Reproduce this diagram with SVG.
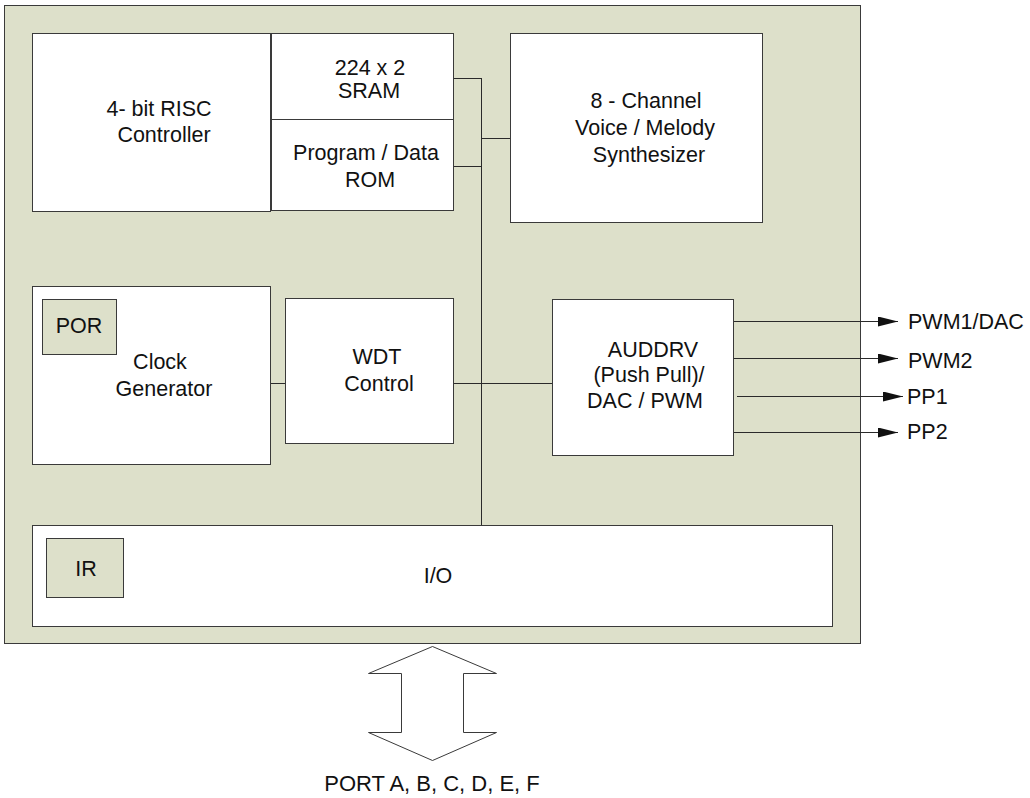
<svg xmlns="http://www.w3.org/2000/svg" width="1030" height="798" viewBox="0 0 1030 798">
  <style>
    .chip { fill: #dde0ca; stroke: #3a3a3a; stroke-width: 1; }
    .blk { fill: #ffffff; stroke: #3a3a3a; stroke-width: 1; }
    .sub { fill: #dde0ca; stroke: #3a3a3a; stroke-width: 1; }
    .wire { fill: none; stroke: #2a2a2a; stroke-width: 1; }
    .out { fill: none; stroke: #2a2a2a; stroke-width: 1; marker-end: url(#tri); }
    text { font-family: "Liberation Sans", Arial, sans-serif; font-size: 21.5px; fill: #111111; }
    .c { text-anchor: middle; }
  </style>
  <defs>
    <marker id="tri" markerUnits="userSpaceOnUse" markerWidth="20" markerHeight="10" refX="20" refY="5" orient="auto">
      <path d="M0,0 L20,5 L0,10 Z" fill="#111111"/>
    </marker>
  </defs>

  <!-- chip outline -->
  <g id="chip">
    <rect class="chip" x="4.5" y="5.5" width="856" height="638"/>
  </g>

  <!-- internal buses and external pins -->
  <g id="connectors">
    <path class="wire" d="M481.5,78 V525"/>
    <path class="wire" d="M453,78.5 H482"/>
    <path class="wire" d="M453,166.5 H482"/>
    <path class="wire" d="M481,138.5 H510"/>
    <path class="wire" d="M270,383.5 H285"/>
    <path class="wire" d="M453,383.5 H552"/>
    <path class="out" d="M733,321.5 H898"/>
    <path class="out" d="M733,358.5 H898"/>
    <path class="out" d="M737,396.5 H903"/>
    <path class="out" d="M733,432.5 H898"/>
    <polygon class="blk" points="432.5,646.5 496.5,673.5 463.5,673.5 463.5,732.5 496.5,732.5 432.5,760.5 368.5,732.5 401.5,732.5 401.5,673.5 368.5,673.5"/>
  </g>

  <g id="risc">
    <rect class="blk" x="32.5" y="33.5" width="238" height="178"/>
    <text class="c" x="159" y="116">4- bit RISC</text>
    <text class="c" x="164" y="142">Controller</text>
  </g>

  <g id="sram">
    <rect class="blk" x="271.5" y="33.5" width="182" height="86"/>
    <text class="c" x="370" y="75">224 x 2</text>
    <text class="c" x="369" y="98">SRAM</text>
  </g>

  <g id="rom">
    <rect class="blk" x="271.5" y="119.5" width="182" height="91"/>
    <text class="c" x="366" y="160">Program / Data</text>
    <text class="c" x="370" y="187">ROM</text>
  </g>

  <g id="synth">
    <rect class="blk" x="510.5" y="33.5" width="252" height="189"/>
    <text class="c" x="646" y="108">8 - Channel</text>
    <text class="c" x="645" y="135">Voice / Melody</text>
    <text class="c" x="649" y="162">Synthesizer</text>
  </g>

  <g id="clock">
    <rect class="blk" x="32.5" y="286.5" width="238" height="178"/>
    <text class="c" x="160" y="369">Clock</text>
    <text class="c" x="164" y="396">Generator</text>
  </g>

  <g id="por">
    <rect class="sub" x="42.5" y="299.5" width="74" height="55"/>
    <text class="c" x="79" y="333">POR</text>
  </g>

  <g id="wdt">
    <rect class="blk" x="285.5" y="298.5" width="168" height="145"/>
    <text class="c" x="377" y="364">WDT</text>
    <text class="c" x="379" y="391">Control</text>
  </g>

  <g id="auddrv">
    <rect class="blk" x="552.5" y="299.5" width="181" height="156"/>
    <text class="c" x="653" y="357">AUDDRV</text>
    <text class="c" x="649" y="382">(Push Pull)/</text>
    <text class="c" x="645" y="408">DAC / PWM</text>
  </g>

  <g id="io">
    <rect class="blk" x="32.5" y="525.5" width="800" height="101"/>
    <text class="c" x="438" y="583">I/O</text>
  </g>

  <g id="ir">
    <rect class="sub" x="46.5" y="538.5" width="77" height="59"/>
    <text class="c" x="86" y="576">IR</text>
  </g>

  <g id="pins">
    <text x="908" y="329">PWM1/DAC</text>
    <text x="908" y="368">PWM2</text>
    <text x="907" y="404">PP1</text>
    <text x="907" y="439">PP2</text>
    <text class="c" x="432" y="791" style="font-size:22px">PORT A, B, C, D, E, F</text>
  </g>
</svg>
